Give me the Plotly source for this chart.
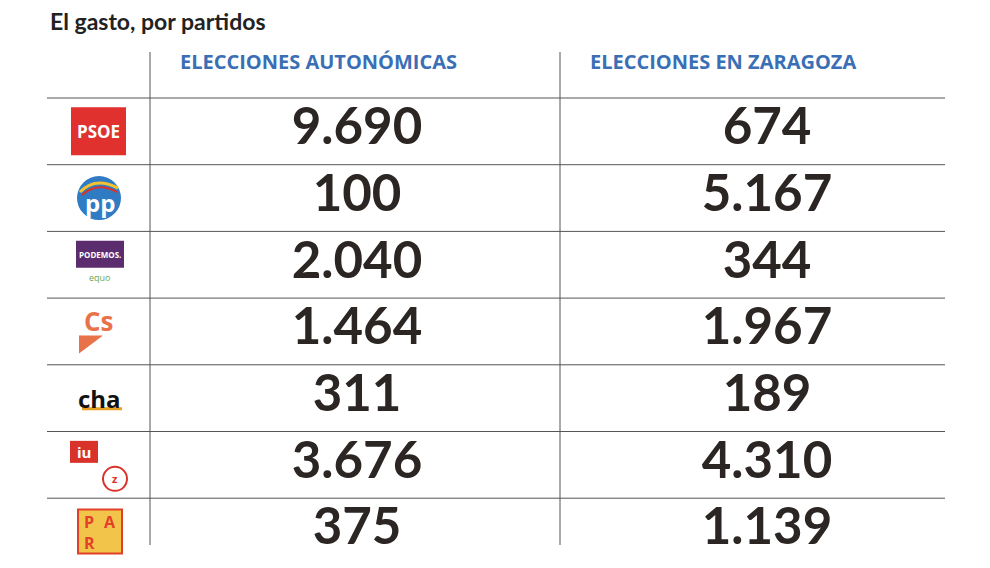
import plotly.graph_objects as go

parties = ["PSOE", "PP", "PODEMOS", "Cs", "CHA", "IU", "PAR"]
autonomicas = ["9.690", "100", "2.040", "1.464", "311", "3.676", "375"]
zaragoza = ["674", "5.167", "344", "1.967", "189", "4.310", "1.139"]
headers = ["ELECCIONES AUTONÓMICAS", "ELECCIONES EN ZARAGOZA"]
title = "El gasto, por partidos"

W, H = 990, 568
OFF = 8
row_top = 98
row_h = 66.7
ys = [row_top + row_h * (i + 0.5) for i in range(len(parties))]

fig = go.Figure()
font_num = dict(family="Lato, 'Open Sans', sans-serif", size=51, color="#2b2623")
fig.add_trace(go.Scatter(x=[357] * len(parties), y=ys, mode="text",
                         text=["<b>%s</b>" % v for v in autonomicas],
                         textfont=font_num, hoverinfo="skip"))
fig.add_trace(go.Scatter(x=[767] * len(parties), y=ys, mode="text",
                         text=["<b>%s</b>" % v for v in zaragoza],
                         textfont=font_num, hoverinfo="skip"))

shapes = []
ann = []
line = dict(color="#555555", width=1)
for i in range(len(parties)):
    y = row_top + row_h * i
    shapes.append(dict(type="line", x0=47, x1=945, y0=y, y1=y, line=line))
shapes.append(dict(type="line", x0=150, x1=150, y0=52, y1=545, line=line))
shapes.append(dict(type="line", x0=560, x1=560, y0=52, y1=545, line=line))

ann.append(dict(x=48, y=21, text="<b>" + title + "</b>", showarrow=False, xanchor="left",
                font=dict(family="Lato, sans-serif", size=23, color="#222")))
for hx, h in zip([178, 588], headers):
    ann.append(dict(x=hx, y=61, text="<b>" + h + "</b>", showarrow=False, xanchor="left",
                    font=dict(family="Open Sans, sans-serif", size=20, color="#3a6fb5")))

def rect(x0, y0, x1, y1, color, **kw):
    d = dict(type="rect", x0=x0, x1=x1, y0=y0, y1=y1, fillcolor=color, line=dict(width=0))
    d.update(kw)
    shapes.append(d)

def txt(x, y, t, size, color, bold=True):
    ann.append(dict(x=x, y=y, text=("<b>%s</b>" % t) if bold else t, showarrow=False,
                    font=dict(family="Open Sans, sans-serif", size=size, color=color)))

# PSOE
c = ys[0]
rect(71, c - 24, 126, c + 24, "#e0312e")
txt(98, c, "PSOE", 17, "white")
# PP
c = ys[1]
shapes.append(dict(type="circle", x0=77, x1=121, y0=c - 22, y1=c + 22, fillcolor="#2f7bc4", line=dict(width=0)))
shapes.append(dict(type="path", path=f"M 80 {c-6} Q 95 {c-22} 118 {c-10}", line=dict(color="#f2c230", width=3)))
shapes.append(dict(type="path", path=f"M 82 {c-3} Q 97 {c-17} 117 {c-6}", line=dict(color="#d9322b", width=2)))
txt(100, c + 4, "pp", 24, "white")
# Podemos
c = ys[2]
rect(76, c - 24, 124, c + 3, "#5b2d6e")
txt(100, c - 10, "PODEMOS.", 8, "white")
txt(100, c + 13, "equo", 9, "#6aa84f", bold=False)
# Cs
c = ys[3]
txt(99, c - 10, "Cs", 26, "#e8734a")
shapes.append(dict(type="path", path=f"M 79 {c+4} L 103 {c+4} L 79 {c+22} Z", fillcolor="#e8734a", line=dict(width=0)))
# CHA
c = ys[4]
txt(99, c, "cha", 24, "#111")
rect(82, c + 9, 122, c + 12, "#e6a020")
# IU
c = ys[5]
rect(70, c - 24, 98, c - 2, "#d9322b")
txt(84, c - 13, "iu", 15, "white")
shapes.append(dict(type="circle", x0=103, x1=127, y0=c + 2, y1=c + 26, fillcolor="white", line=dict(color="#d9322b", width=2)))
txt(115, c + 14, "z", 11, "#d9322b")
# PAR
c = ys[6]
rect(78, c - 22, 122, c + 22, "#f3c44a", line=dict(color="#e3402a", width=2))
txt(89, c - 10, "P", 16, "#e3402a")
txt(110, c - 10, "A", 16, "#e3402a")
txt(89, c + 11, "R", 16, "#e3402a")

fig.update_layout(
    width=W, height=H, margin=dict(l=0, r=0, t=0, b=0),
    paper_bgcolor="white", plot_bgcolor="white", showlegend=False,
    xaxis=dict(range=[OFF, W + OFF], visible=False, fixedrange=True),
    yaxis=dict(range=[H + OFF, OFF], visible=False, fixedrange=True),
    shapes=shapes, annotations=ann,
)
fig.write_html("out.html")
